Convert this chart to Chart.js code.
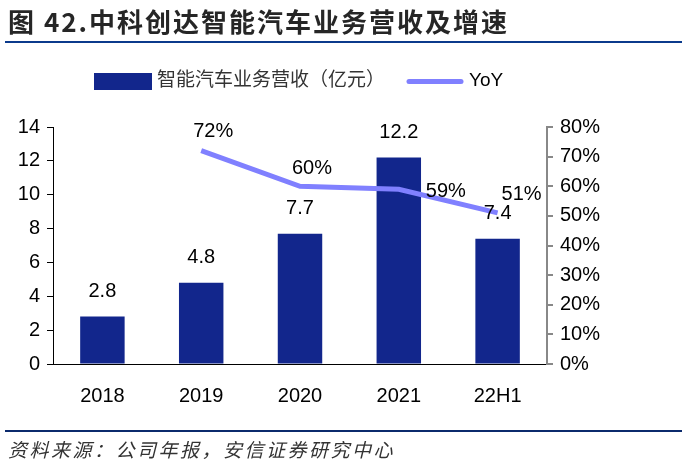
<!DOCTYPE html>
<html>
<head>
<meta charset="utf-8">
<script src="https://cdn.jsdelivr.net/npm/chart.js@4"></script>
<style>
  body { margin: 0; background: #fff; }
  #wrap { position: relative; width: 682px; height: 462px; overflow: hidden; }
  #title {
    position: absolute; left: 8px; top: 2px; letter-spacing: 2px;
    font: 700 26px "Noto Sans CJK SC", serif; color: #262626; white-space: nowrap;
  }
  #topline { position: absolute; left: 5px; right: 0; top: 41px; height: 2px; background: #0b3a8c; }
  #botline { position: absolute; left: 5px; right: 0; top: 430px; height: 2px; background: #0b2a6c; }
  #source {
    position: absolute; left: 8px; top: 435px; letter-spacing: 2.5px;
    font: italic 19px "Noto Sans CJK SC", sans-serif; color: #333; white-space: nowrap;
  }
  canvas { position: absolute; left: 0; top: 0; }
</style>
</head>
<body>
<div id="wrap">
  <canvas id="chart" width="682" height="462"></canvas>
  <div id="title">图 42.中科创达智能汽车业务营收及增速</div>
  <div id="topline"></div>
  <div id="botline"></div>
  <div id="source">资料来源：公司年报，安信证券研究中心</div>
</div>
<script>
const categories = ['2018', '2019', '2020', '2021', '22H1'];
const revenue = [2.8, 4.8, 7.7, 12.2, 7.4];       // 亿元
const yoy = [null, 72, 60, 59, 51];               // %
const revenueLabel = '智能汽车业务营收（亿元）';
const yoyLabel = 'YoY';

const barColor = '#12268c';
const lineColor = '#8080ff';
const FONT = '"Liberation Sans", Arial, "Noto Sans CJK SC", sans-serif';

// where each YoY label sits relative to its point
const yoyOffsets = [null, [12, -19], [12, -18], [47, 2], [24, -18]];

const labelPlugin = {
    id: 'valueLabels',
    afterDatasetsDraw(chart) {
        const ctx = chart.ctx;
        ctx.save();
        ctx.font = '20px ' + FONT;
        ctx.fillStyle = '#000';
        ctx.textAlign = 'center';
        ctx.textBaseline = 'middle';
        chart.getDatasetMeta(0).data.forEach((el, i) => {
            ctx.fillText(revenue[i].toFixed(1), el.x, el.y - 25);
        });
        chart.getDatasetMeta(1).data.forEach((el, i) => {
            if (yoy[i] == null) return;
            const off = yoyOffsets[i];
            ctx.fillText(yoy[i] + '%', el.x + off[0], el.y + off[1]);
        });
        ctx.restore();
    }
};

const legendPlugin = {
    id: 'customLegend',
    afterDraw(chart) {
        const ctx = chart.ctx;
        ctx.save();
        ctx.fillStyle = barColor;
        ctx.fillRect(94, 73, 58, 17);
        ctx.strokeStyle = lineColor;
        ctx.lineWidth = 5;
        ctx.lineCap = 'round';
        ctx.beginPath();
        ctx.moveTo(409, 81.5);
        ctx.lineTo(461, 81.5);
        ctx.stroke();
        ctx.font = '19px ' + FONT;
        ctx.textBaseline = 'middle';
        ctx.fillStyle = '#333';
        ctx.fillText(revenueLabel, 157, 81);
        ctx.fillStyle = '#000';
        ctx.fillText(yoyLabel, 469, 81);
        ctx.restore();
    }
};

new Chart(document.getElementById('chart'), {
    type: 'bar',
    data: {
        labels: categories,
        datasets: [
            {
                type: 'bar',
                label: revenueLabel,
                data: revenue,
                backgroundColor: barColor,
                barPercentage: 0.9,
                categoryPercentage: 0.5,
                yAxisID: 'y',
                order: 1
            },
            {
                type: 'line',
                label: yoyLabel,
                data: yoy,
                borderColor: lineColor,
                borderWidth: 5,
                pointRadius: 0,
                tension: 0,
                yAxisID: 'y1',
                order: 0
            }
        ]
    },
    options: {
        responsive: false,
        animation: false,
        layout: { padding: { top: 127, left: 8, right: 0, bottom: 58 } },
        plugins: { legend: { display: false }, tooltip: { enabled: false } },
        scales: {
            x: {
                grid: { display: false },
                border: { display: true, color: '#000', width: 1 },
                ticks: { color: '#000', font: { size: 20, family: FONT }, padding: 12 },
                afterFit: (s) => { s.height = 40; }
            },
            y: {
                position: 'left',
                min: 0, max: 14,
                grid: { drawOnChartArea: false, tickLength: 6, tickColor: '#000' },
                border: { display: true, color: '#000', width: 1 },
                ticks: { stepSize: 2, color: '#000', font: { size: 20, family: FONT }, padding: 7 },
                afterFit: (s) => { s.width = 45; }
            },
            y1: {
                position: 'right',
                min: 0, max: 80,
                grid: { drawOnChartArea: false, tickLength: 6, tickColor: '#888', lineWidth: 2 },
                border: { display: true, color: '#888', width: 2 },
                ticks: {
                    stepSize: 10, color: '#000', font: { size: 20, family: FONT }, padding: 7,
                    callback: (v) => v + '%'
                },
                afterFit: (s) => { s.width = 135; }
            }
        }
    },
    plugins: [labelPlugin, legendPlugin]
});
</script>
</body>
</html>
